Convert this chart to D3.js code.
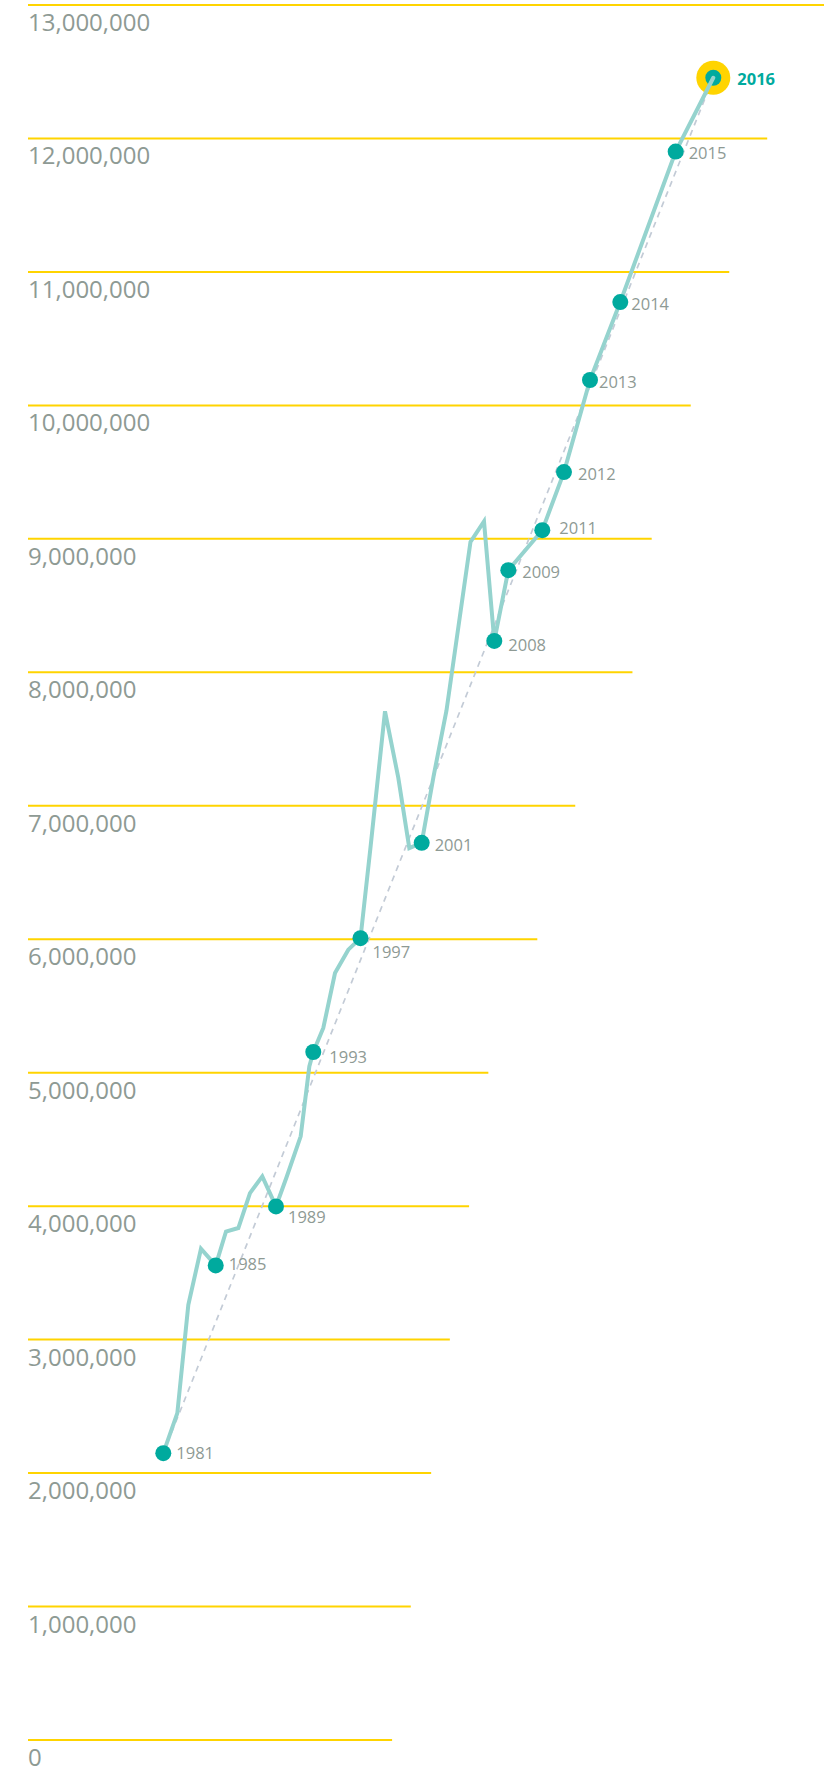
<!DOCTYPE html>
<html>
<head>
<meta charset="utf-8">
<script src="https://cdn.jsdelivr.net/npm/d3@7"></script>
<style>
  html, body { margin: 0; padding: 0; background: #ffffff; }
  svg { display: block; }
  text { font-family: "Open Sans", "Noto Sans", sans-serif; }
</style>
</head>
<body>
<svg id="chart" width="824" height="1772"></svg>
<script>
// ---------------- DATA ----------------
// Horizontal measure of the connected path (unlabelled in the original, relative units)
const pathX = [0, 2.55, 4.55, 6.85, 9.53, 11.4, 13.64, 15.76, 18.0, 20.49,
  22.44, 24.98, 26.55, 27.27, 29.09, 31.22, 33.64, 35.85, 37.67, 40.31,
  42.73, 44.73, 46.98, 49.13, 51.49, 55.85, 58.31, 60.18, 62.73, 68.91,
  72.85, 77.58, 83.09, 93.16, 100];
// Values of the path (millions)
const pathValue = [2.149, 2.449, 3.261, 3.681, 3.556, 3.810, 3.836, 4.098, 4.223, 3.998,
  4.220, 4.523, 5.047, 5.155, 5.335, 5.747, 5.922, 6.008, 6.687, 7.708,
  7.209, 6.683, 6.722, 7.219, 7.714, 8.977, 9.130, 8.235, 8.765, 9.065,
  9.500, 10.190, 10.774, 11.902, 12.455];
// Labelled years and the path vertex they mark
const markerYears  = [1981, 1985, 1989, 1993, 1997, 2001, 2008, 2009, 2011, 2012, 2013, 2014, 2015, 2016];
const markerVertex = [0, 4, 9, 13, 17, 22, 27, 28, 29, 30, 31, 32, 33, 34];
// Y tick values
const tickValues = [0, 1e6, 2e6, 3e6, 4e6, 5e6, 6e6, 7e6, 8e6, 9e6, 10e6, 11e6, 12e6, 13e6];
// How far each gridline reaches along the horizontal measure
const gridReach = [41.6, 45.0, 48.7, 52.1, 55.6, 59.1, 68.0, 74.9, 85.3, 88.8, 95.9, 102.9, 109.8, 125];

// ---------------- LAYOUT / STYLE ----------------
const W = 824, H = 1772;
const gridLeft = 28;
const colGrid = "#ffd400";
const colTick = "#8e9a94";
const colPath = "#95d3ce";
const colDot = "#00aa9e";
const colTrend = "#c3cbd6";
const labelNudge = {
  1981: [13, 6], 1985: [13, 5], 1989: [12, 17], 1993: [16, 11], 1997: [12, 20],
  2001: [13, 8], 2008: [14, 10], 2009: [14, 8], 2011: [17, 4], 2012: [14, 8],
  2013: [9, 8], 2014: [11, 8], 2015: [13, 7], 2016: [24, 7]
};

const x = d3.scaleLinear().domain([0, 100]).range([163.3, 713.3]);
const y = d3.scaleLinear().domain([0, 13e6]).range([1740, 5]);

const svg = d3.select("#chart");
const pts = pathX.map((v, i) => ({ x: v, v: pathValue[i] * 1e6 }));
const markers = markerYears.map((yr, i) => ({ year: yr, ...pts[markerVertex[i]] }));

// gridlines
svg.append("g").selectAll("line").data(tickValues).join("line")
  .attr("x1", gridLeft)
  .attr("x2", (d, i) => Math.min(W, x(gridReach[i])))
  .attr("y1", d => y(d)).attr("y2", d => y(d))
  .attr("stroke", colGrid).attr("stroke-width", 2);

// tick labels
const fmt = d3.format(",");
svg.append("g").selectAll("text").data(tickValues).join("text")
  .attr("x", gridLeft)
  .attr("y", d => y(d) + 26)
  .attr("fill", colTick)
  .attr("font-size", 24)
  .attr("font-weight", 400)
  .text(d => fmt(d));

// trend (dashed) line from first to last point
const first = pts[0], last = pts[pts.length - 1];
svg.append("line")
  .attr("x1", x(first.x)).attr("y1", y(first.v))
  .attr("x2", x(last.x)).attr("y2", y(last.v))
  .attr("stroke", colTrend).attr("stroke-width", 1.7)
  .attr("stroke-dasharray", "6,5");

// highlight ring for last year (under path)
const lastM = markers[markers.length - 1];
svg.append("circle")
  .attr("cx", x(lastM.x)).attr("cy", y(lastM.v)).attr("r", 17)
  .attr("fill", colGrid);
svg.append("circle")
  .attr("cx", x(lastM.x)).attr("cy", y(lastM.v)).attr("r", 8)
  .attr("fill", colDot);

// path
const line = d3.line().x(d => x(d.x)).y(d => y(d.v));
svg.append("path")
  .datum(pts)
  .attr("d", line)
  .attr("fill", "none")
  .attr("stroke", colPath)
  .attr("stroke-width", 4)
  .attr("stroke-linejoin", "miter")
  .attr("stroke-linecap", "round");

// markers (other than last)
svg.append("g").selectAll("circle").data(markers.slice(0, -1)).join("circle")
  .attr("cx", d => x(d.x)).attr("cy", d => y(d.v)).attr("r", 8)
  .attr("fill", colDot);

// year labels
svg.append("g").selectAll("text").data(markers).join("text")
  .attr("x", d => x(d.x) + labelNudge[d.year][0])
  .attr("y", d => y(d.v) + labelNudge[d.year][1])
  .attr("font-size", 16.5)
  .attr("font-weight", d => d === lastM ? 700 : 400)
  .attr("fill", d => d === lastM ? colDot : colTick)
  .text(d => d.year);
</script>
</body>
</html>
